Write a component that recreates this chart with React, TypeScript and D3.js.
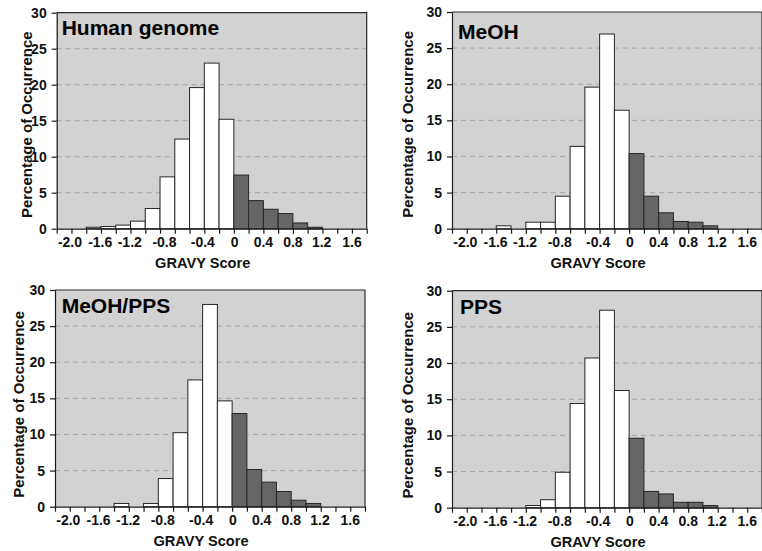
import React, { useEffect, useRef } from "react";
import * as d3 from "d3";

// GRAVY score bins (left edge of each 0.2 wide bar)
const binStarts = [-2.0, -1.8, -1.6, -1.4, -1.2, -1.0, -0.8, -0.6, -0.4, -0.2, 0.0, 0.2, 0.4, 0.6, 0.8, 1.0];

// percentage of occurrence per bin
const humanGenome = [0.2, 0.3, 0.5, 1.05, 2.8, 7.2, 12.45, 19.6, 23.0, 15.2, 7.45, 3.9, 2.7, 2.1, 0.8, 0.2];
const meoh = [0, 0.4, 0, 0.9, 0.9, 4.5, 11.4, 19.6, 26.95, 16.4, 10.4, 4.5, 2.2, 1.0, 0.9, 0.4];
const meohPps = [0, 0, 0.45, 0, 0.45, 3.9, 10.25, 17.55, 28.0, 14.65, 12.9, 5.15, 3.4, 2.1, 0.9, 0.45];
const pps = [0, 0, 0, 0.3, 1.1, 4.9, 14.4, 20.7, 27.3, 16.2, 9.6, 2.25, 1.9, 0.75, 0.75, 0.3];

const panelTitles = ["Human genome", "MeOH", "MeOH/PPS", "PPS"];
const panelSeries = [humanGenome, meoh, meohPps, pps];

// axis ticks
const xDomain = [-2.4, 1.8];
const xTickLabels = ["-2.0", "-1.6", "-1.2", "-0.8", "-0.4", "0", "0.4", "0.8", "1.2", "1.6"];
// where the labels sit in the original (they are not quite on their ticks)
const xTickLabelAt = [-2.22, -1.81, -1.41, -0.94, -0.42, 0.01, 0.4, 0.8, 1.19, 1.6];
const yTicks = [0, 5, 10, 15, 20, 25, 30];
const gridTicks = [5, 10, 15, 20, 25];

const xTitle = "GRAVY Score";
const yTitle = "Percentage of Occurrence";

// layout of each panel (pixels)
const layout = [
    { left: 56.7, top: 12.7, bottom: 228.7, titleDx: 5, titleDy: 22, yTitleDx: -30.2, yTitleDy: 4 },
    { left: 452, top: 12, bottom: 228.7, titleDx: 6, titleDy: 26.5, yTitleDx: -44.5, yTitleDy: 4 },
    { left: 55, top: 290, bottom: 506.7, titleDx: 6.7, titleDy: 23, yTitleDx: -36.5, yTitleDy: 6 },
    { left: 452, top: 290.7, bottom: 507.7, titleDx: 8, titleDy: 23.6, yTitleDx: -44.5, yTitleDy: 6 },
];
const plotWidth = 310;

const font = "'Liberation Sans', Arial, sans-serif";

const App = () => {
    const svgRef = useRef<SVGSVGElement>(null);

    useEffect(() => {
        const svg = d3.select(svgRef.current);
        svg.selectAll("*").remove();

        svg.append("rect")
            .attr("width", 762)
            .attr("height", 551)
            .attr("fill", "#ffffff");

        panelSeries.forEach((values, p) => {
            const L = layout[p];
            const right = L.left + plotWidth;

            const xScale = d3.scaleLinear().domain(xDomain).range([L.left, right]);
            const yScale = d3.scaleLinear().domain([0, 30]).range([L.bottom, L.top]);

            const g = svg.append("g");

            // plot background
            g.append("rect")
                .attr("x", L.left)
                .attr("y", L.top)
                .attr("width", plotWidth)
                .attr("height", L.bottom - L.top)
                .attr("fill", "#d2d2d2");

            // dashed gridlines
            g.selectAll(".grid")
                .data(gridTicks)
                .join("line")
                .attr("x1", L.left)
                .attr("x2", right)
                .attr("y1", (d) => yScale(d))
                .attr("y2", (d) => yScale(d))
                .attr("stroke", "#a6a6a6")
                .attr("stroke-width", 1)
                .attr("stroke-dasharray", "5,4");

            // bars
            const bars = binStarts.map((b, i) => ({ x0: b, x1: b + 0.2, v: values[i] })).filter((d) => d.v > 0);
            g.selectAll(".bar")
                .data(bars)
                .join("rect")
                .attr("x", (d) => xScale(d.x0))
                .attr("y", (d) => yScale(d.v))
                .attr("width", (d) => xScale(d.x1) - xScale(d.x0))
                .attr("height", (d) => yScale(0) - yScale(d.v))
                .attr("fill", (d) => (d.x0 < -0.001 ? "#ffffff" : "#666666"))
                .attr("stroke", "#262626")
                .attr("stroke-width", 1);

            // top and right frame
            g.append("path")
                .attr("d", `M${L.left},${L.top}H${right}V${L.bottom}`)
                .attr("fill", "none")
                .attr("stroke", "#2a2a2a")
                .attr("stroke-width", 1.2);

            // x axis: tick marks on every bin edge, labels placed separately
            const xTickValues = d3.range(22).map((i) => xDomain[0] + i * 0.2);
            const xAxis = d3.axisBottom(xScale)
                .tickValues(xTickValues)
                .tickFormat(() => "")
                .tickSizeInner(5)
                .tickSizeOuter(0);
            g.append("g")
                .attr("transform", `translate(0,${L.bottom})`)
                .call(xAxis)
                .call((a) => a.selectAll("path,line").attr("stroke", "#1a1a1a").attr("stroke-width", 1.2));

            g.selectAll(".xlab")
                .data(xTickLabels)
                .join("text")
                .attr("x", (d, i) => xScale(xTickLabelAt[i]))
                .attr("y", L.bottom + 18.5)
                .attr("text-anchor", "middle")
                .attr("font-family", font)
                .attr("font-weight", "bold")
                .attr("font-size", 14)
                .attr("fill", "#111")
                .text((d) => d);

            // y axis
            const yAxis = d3.axisLeft(yScale)
                .tickValues(yTicks)
                .tickSizeInner(5)
                .tickSizeOuter(0)
                .tickPadding(5);
            g.append("g")
                .attr("transform", `translate(${L.left},0)`)
                .call(yAxis)
                .call((a) => a.selectAll("path,line").attr("stroke", "#1a1a1a").attr("stroke-width", 1.2))
                .call((a) => a.selectAll("text")
                    .attr("font-family", font)
                    .attr("font-weight", "bold")
                    .attr("font-size", 14)
                    .attr("fill", "#111"));

            // axis titles
            g.append("text")
                .attr("x", (L.left + right) / 2 - 9)
                .attr("y", L.bottom + 39.5)
                .attr("text-anchor", "middle")
                .attr("font-family", font)
                .attr("font-weight", "bold")
                .attr("font-size", 14.6)
                .attr("fill", "#111")
                .text(xTitle);

            g.append("text")
                .attr("transform", `translate(${L.left + L.yTitleDx},${(L.top + L.bottom) / 2 + L.yTitleDy}) rotate(-90)`)
                .attr("text-anchor", "middle")
                .attr("dy", "0.36em")
                .attr("font-family", font)
                .attr("font-weight", "bold")
                .attr("font-size", 15)
                .attr("fill", "#111")
                .text(yTitle);

            // panel title
            g.append("text")
                .attr("x", L.left + L.titleDx)
                .attr("y", L.top + L.titleDy)
                .attr("font-family", font)
                .attr("font-weight", "bold")
                .attr("font-size", 21)
                .attr("fill", "#000")
                .text(panelTitles[p]);
        });
    }, []);

    return (
        <svg
            ref={svgRef}
            width={762}
            height={551}
            style={{ position: "absolute", left: 0, top: 0, display: "block" }}
        ></svg>
    );
};

export default App;
